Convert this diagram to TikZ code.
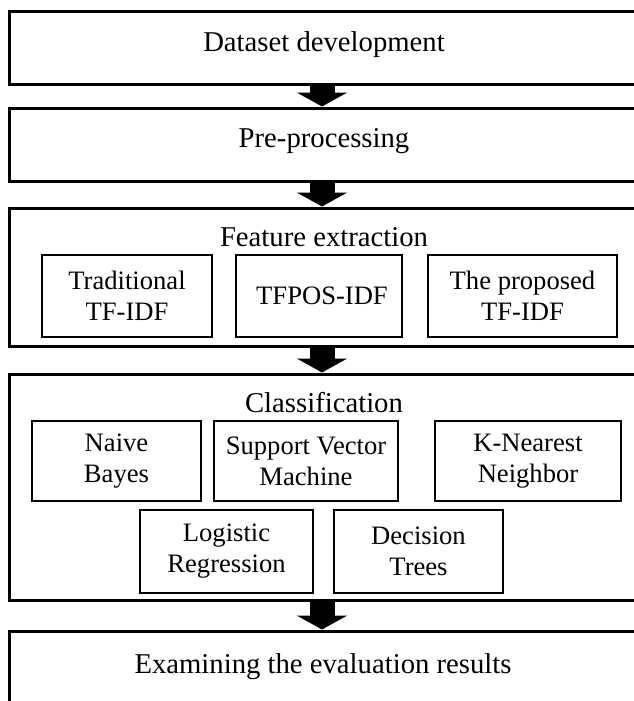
\documentclass[tikz,border=0pt]{standalone}
\usepackage{fontspec}
\setmainfont{Liberation Serif}
\usetikzlibrary{arrows.meta}
\tikzset{
  outerbox/.style={draw=black, line width=3pt, rectangle, inner sep=0pt, minimum width=629pt},
  innerbox/.style={draw=black, line width=2.2pt, rectangle, inner sep=0pt, align=center,
                   font=\fontsize{26.6pt}{31pt}\selectfont},
  title/.style={anchor=base, inner sep=0pt, font=\fontsize{28.7pt}{32pt}\selectfont},
  blockarrow/.style={line width=25pt, -{Triangle[width=50pt,length=14pt]}, black},
}
\begin{document}
\begin{tikzpicture}[x=1pt,y=-1pt]
\useasboundingbox (0,0) rectangle (634,701);
\fill[white] (0,0) rectangle (634,701);
\clip (0,0) rectangle (634,701);
\coordinate (ax) at (322,0);
% outer boxes
\node[outerbox, minimum height=72pt]  (b1) at (323.5,48) {};
\node[outerbox, minimum height=73pt]  (b2) at (323.5,144.5) {};
\node[outerbox, minimum height=138pt] (b3) at (323.5,277) {};
\node[outerbox, minimum height=226pt] (b4) at (323.5,487) {};
\node[outerbox, minimum height=110pt] (b5) at (323.5,686) {};
% titles
\node[title] (t1) at (324,52)  {Dataset development};
\node[title] (t2) at (324,147) {Pre-processing};
\node[title] (t3) at (324,246) {Feature extraction};
\node[title] (t4) at (324,412) {Classification};
\node[title] (t5) at (323,673) {Examining the evaluation results};
% feature extraction boxes
\node[innerbox, minimum width=170pt, minimum height=82pt] (f1) at (127,296) {Traditional\\TF-IDF};
\node[innerbox, minimum width=166pt, minimum height=82pt] (f2) at (319,296) {\hspace*{6pt}TFPOS-IDF\raisebox{0pt}[0pt][0pt]{}};
\node[innerbox, minimum width=189pt, minimum height=82pt] (f3) at (522.5,296) {The proposed\\TF-IDF};
% classification boxes
\node[innerbox, minimum width=169pt, minimum height=80pt] (c1) at (116.5,461) {Naive\\Bayes};
\node[innerbox, minimum width=184pt, minimum height=80pt] (c2) at (306,461) {Support Vector\\Machine};
\node[innerbox, minimum width=186pt, minimum height=80pt] (c3) at (528,461) {K-Nearest\\Neighbor};
\node[innerbox, minimum width=173pt, minimum height=83pt] (c4) at (226.5,551.5) {Logistic\\Regression};
\node[innerbox, minimum width=169pt, minimum height=83pt] (c5) at (418.5,551.5) {Decision\\Trees};
% arrows
\draw[blockarrow] (b1.south -| ax) -- (b2.north -| ax);
\draw[blockarrow] (b2.south -| ax) -- (b3.north -| ax);
\draw[blockarrow] (b3.south -| ax) -- (b4.north -| ax);
\draw[blockarrow] (b4.south -| ax) -- (b5.north -| ax);
\end{tikzpicture}
\end{document}
